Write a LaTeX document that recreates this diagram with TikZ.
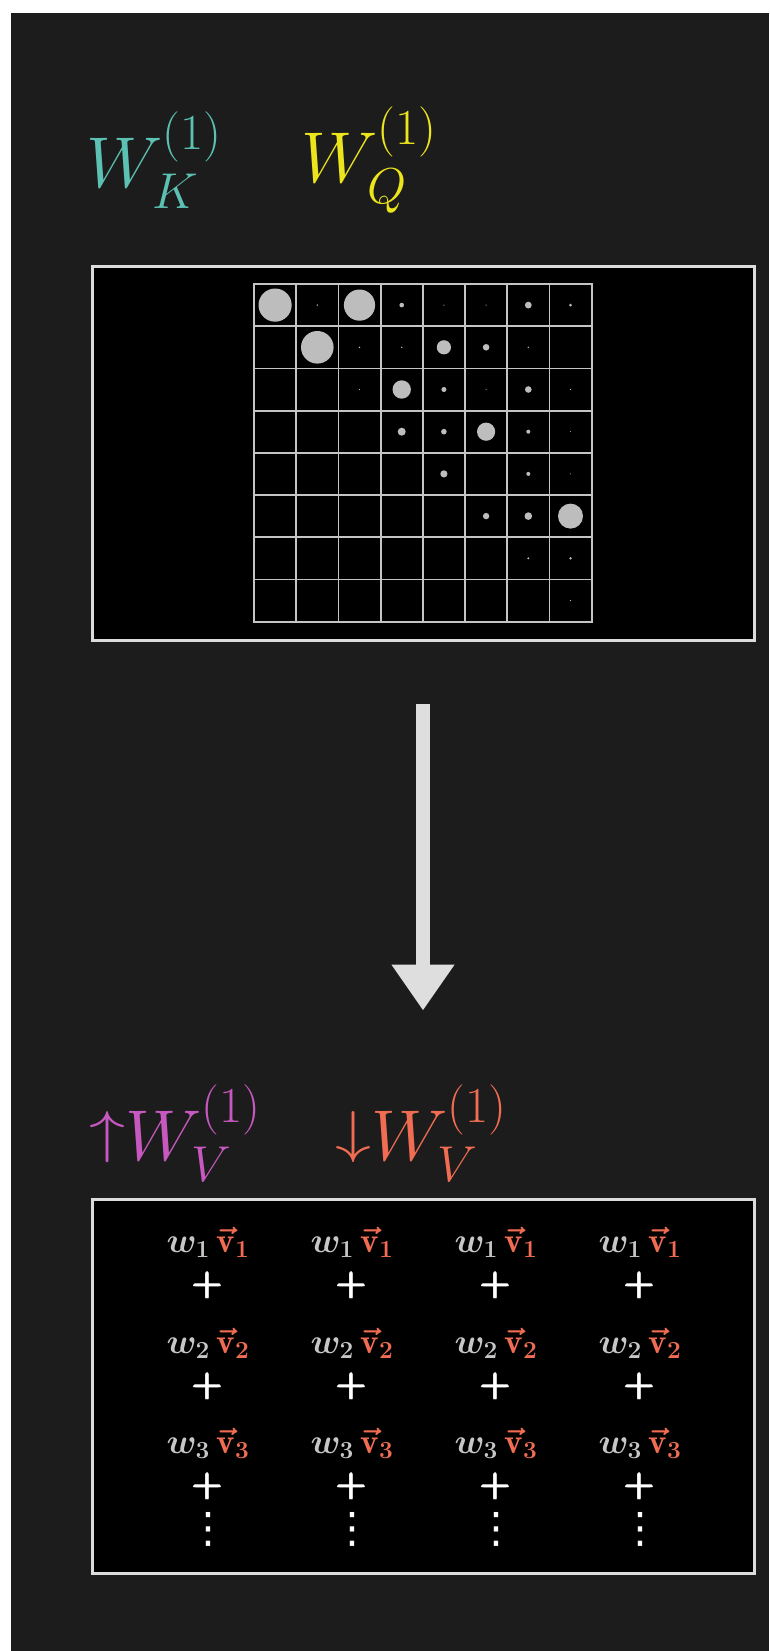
\RequirePackage{fix-cm}
\documentclass[tikz,border=0pt]{standalone}
\usepackage{amsmath,amssymb}
\usepackage{fontspec}
\usepackage{tikz}
\usepackage{xcolor}
\usetikzlibrary{arrows.meta}

\newfontfamily\dotsfont{DejaVu Sans}

\definecolor{bgdark}{HTML}{1C1C1C}
\definecolor{keyteal}{HTML}{5CC1B2}
\definecolor{queryyellow}{HTML}{EDE51C}
\definecolor{valpink}{HTML}{C658BF}
\definecolor{valred}{HTML}{F06C52}
\definecolor{wgray}{HTML}{C6C6C6}
\definecolor{linegray}{HTML}{DCDCDC}
\definecolor{gridgray}{HTML}{C4C4C4}
\definecolor{dotgray}{HTML}{BDBDBD}
\definecolor{arrowgray}{HTML}{DEDEDE}

\newcommand{\titlesize}{\fontsize{72}{86}\selectfont}
\newcommand{\termsize}{\fontsize{35}{42}\selectfont\boldmath\bfseries}
\newcommand{\wv}[1]{$\color{wgray}w_{#1}\,{\color{valred}\boldsymbol{\vec{\mathrm{v}}}_{\mathbf{#1}}}$}
\newcommand{\shortarr}[1]{\raisebox{9pt}{\scalebox{1}[0.8]{$#1$}}}

\begin{document}
\begin{tikzpicture}[x=1pt,y=-1pt,
  panel/.style={draw=linegray, line width=3pt, fill=black, inner sep=0pt,
    minimum width=662pt, minimum height=374pt},
  gridline/.style={draw=gridgray, line width=1.8pt, line cap=rect},
  wdot/.style={fill=dotgray},
  titlemath/.style={font=\titlesize, inner sep=0pt, anchor=base west},
  sumterm/.style={font=\termsize, inner sep=0pt},
  moreterms/.style={font=\dotsfont\fontsize{42}{50}\selectfont, inner sep=0pt, text=white},
  bigarrow/.style={draw=arrowgray, line width=14pt, -{Triangle[length=46pt,width=60pt]}}]
\useasboundingbox (0,0) rectangle (769,1651);
\fill[white] (0,0) rectangle (769,1651);
\fill[bgdark] (11,13) rectangle (769,1651);

% key / query weights
\node[titlemath, text=keyteal] (wk) at (86,187) {$W_K^{(1)}$};
\node[titlemath, text=queryyellow] (wq) at (301,182) {$W_Q^{(1)}$};

% attention pattern
\node[panel] (kqpanel) at (423,453) {};
\foreach \i in {0,...,8} {
  \draw[gridline] ({254+42.2*\i},284) -- ({254+42.2*\i},621.6);
  \draw[gridline] (254,{284+42.2*\i}) -- (591.6,{284+42.2*\i});
}
\foreach \c/\r/\rad in {1/1/16.6, 2/1/0.8, 3/1/15.6, 4/1/2.3, 5/1/0.6, 6/1/0.6, 7/1/3.4, 8/1/1.5,
    2/2/16.3, 3/2/0.8, 4/2/0.8, 5/2/7.1, 6/2/3.3, 7/2/0.8,
    3/3/0.6, 4/3/9.2, 5/3/2.5, 6/3/0.6, 7/3/3.3, 8/3/0.6,
    4/4/4, 5/4/2.8, 6/4/9.1, 7/4/2, 8/4/0.5,
    5/5/3.6, 7/5/2, 8/5/0.5,
    6/6/3.2, 7/6/3.8, 8/6/12.5,
    7/7/1.1, 8/7/1.3,
    8/8/0.6}
  \fill[wdot] ({254+42.2*(\c-0.5)},{284+42.2*(\r-0.5)}) circle (\rad pt);

% value weights
\node[panel] (ovpanel) at (423,1386) {};
\draw[bigarrow] ([yshift=-62pt]kqpanel.south) -- ([yshift=187pt]ovpanel.north);

\node[titlemath, text=valpink] (wvup) at (89,1160) {\shortarr{\uparrow}$W_V^{(1)}$};
\node[titlemath, text=valred] (wvdown) at (335,1160) {\shortarr{\downarrow}$W_V^{(1)}$};

\foreach \c/\cx in {1/208,2/352,3/496,4/640} {
  \foreach \r/\ry in {1/1242,2/1343,3/1443} {
    \node[sumterm] (wv-\c-\r) at (\cx,\ry) {\wv{\r}};
    \node[sumterm, text=white] (plus-\c-\r) at (\cx,\ry+43) {$\pmb{+}$};
  }
  \node[moreterms] (dots-\c) at (\cx,1529) {⋮};
}
\end{tikzpicture}
\end{document}
